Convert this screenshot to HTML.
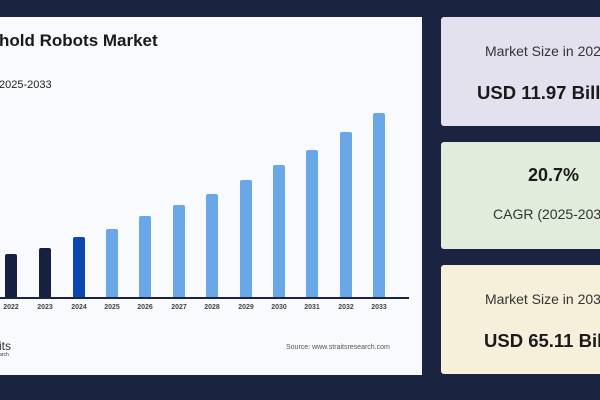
<!DOCTYPE html>
<html><head><style>
html,body{margin:0;width:600px;height:400px;overflow:hidden;}
body{background:#1a2340;font-family:"Liberation Sans",Arial,sans-serif;}
#w{position:relative;width:600px;height:400px;overflow:hidden;}
.p{position:absolute;}
.t{position:absolute;white-space:nowrap;color:#1a1a1a;}
.bar{position:absolute;width:12px;border-radius:2px 2px 0 0;}
.yr{position:absolute;top:304px;width:30px;text-align:center;font-size:7px;font-weight:bold;color:#444;}
</style></head><body><div id="w">
<div class="p" style="left:0;top:17px;width:422px;height:358px;background:#f8fafd;"></div>
<div class="t" style="left:-1px;top:31px;font-size:17px;font-weight:bold;">hold Robots Market</div>
<div class="t" style="left:-1px;top:79px;font-size:11px;color:#222;">2025-2033</div>
<div class="p" style="left:0;top:297px;width:409px;height:1.5px;background:#1a2340;"></div>

<div class="bar" style="left:5px;top:254px;height:43px;background:#17213f"></div>
<div class="bar" style="left:39px;top:248px;height:49px;background:#17213f"></div>
<div class="bar" style="left:73px;top:237px;height:60px;background:#0a47b0"></div>
<div class="bar" style="left:106px;top:229px;height:68px;background:#6aa7e6"></div>
<div class="bar" style="left:139px;top:216px;height:81px;background:#6aa7e6"></div>
<div class="bar" style="left:173px;top:205px;height:92px;background:#6aa7e6"></div>
<div class="bar" style="left:206px;top:194px;height:103px;background:#6aa7e6"></div>
<div class="bar" style="left:240px;top:180px;height:117px;background:#6aa7e6"></div>
<div class="bar" style="left:273px;top:165px;height:132px;background:#6aa7e6"></div>
<div class="bar" style="left:306px;top:150px;height:147px;background:#6aa7e6"></div>
<div class="bar" style="left:340px;top:132px;height:165px;background:#6aa7e6"></div>
<div class="bar" style="left:373px;top:113px;height:184px;background:#6aa7e6"></div>

<div class="yr" style="left:-4px">2022</div>
<div class="yr" style="left:30px">2023</div>
<div class="yr" style="left:64px">2024</div>
<div class="yr" style="left:97px">2025</div>
<div class="yr" style="left:130px">2026</div>
<div class="yr" style="left:164px">2027</div>
<div class="yr" style="left:197px">2028</div>
<div class="yr" style="left:231px">2029</div>
<div class="yr" style="left:264px">2030</div>
<div class="yr" style="left:297px">2031</div>
<div class="yr" style="left:331px">2032</div>
<div class="yr" style="left:364px">2033</div>

<div class="t" style="left:-1px;top:339px;font-size:12px;color:#333;">its</div>
<div class="t" style="left:-1px;top:352px;font-size:5px;color:#333;">arch</div>
<div class="t" style="left:286px;top:344px;font-size:7px;color:#555;">Source: www.straitsresearch.com</div>

<div class="p" style="left:441px;top:17px;width:170px;height:109px;background:#e4e1ee;border-radius:3px;"></div>
<div class="p" style="left:441px;top:142px;width:170px;height:107px;background:#e1ecdc;border-radius:3px;"></div>
<div class="p" style="left:441px;top:265px;width:170px;height:109px;background:#f6efd9;border-radius:3px;"></div>

<div class="t" style="left:485px;top:43px;font-size:14px;color:#333;">Market Size in 2024</div>
<div class="t" style="left:477px;top:82px;font-size:18.5px;font-weight:bold;">USD 11.97 Billion</div>
<div class="t" style="left:528px;top:165px;font-size:18px;font-weight:bold;">20.7%</div>
<div class="t" style="left:493px;top:206px;font-size:14px;color:#333;">CAGR (2025-2033)</div>
<div class="t" style="left:485px;top:291px;font-size:14px;color:#333;">Market Size in 2033</div>
<div class="t" style="left:484px;top:330px;font-size:18.5px;font-weight:bold;">USD 65.11 Billion</div>
</div></body></html>
